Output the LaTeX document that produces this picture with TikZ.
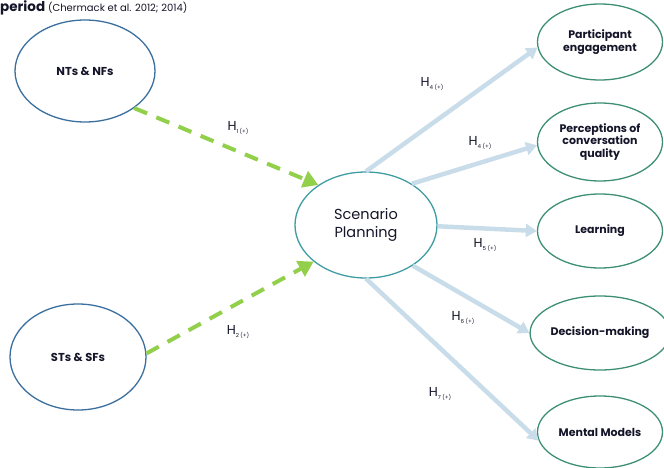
\documentclass[tikz,border=0pt]{standalone}
\usepackage{fontspec}
\setmainfont{Poppins}
\usetikzlibrary{arrows.meta,shapes.geometric}
\definecolor{leftblue}{HTML}{3A6F9E}
\definecolor{spteal}{HTML}{3E9DA2}
\definecolor{rgreen}{HTML}{3D8F73}
\definecolor{arrblue}{HTML}{C8DDE9}
\definecolor{dgreen}{HTML}{92CF4A}
\definecolor{txt}{HTML}{15152A}
\newcommand{\hyp}[1]{H\raisebox{-0.4ex}{\fontsize{5.5}{6}\selectfont #1 (+)}}
\tikzset{
  ell/.style={ellipse, draw, line width=1.3pt, inner sep=0pt, align=center, text=txt},
  lnode/.style={ell, draw=leftblue, font=\fontsize{11.5}{13}\selectfont\bfseries},
  spnode/.style={ell, draw=spteal, font=\fontsize{14.5}{17.5}\selectfont},
  rnode/.style={ell, draw=rgreen, font=\fontsize{11}{12.5}\selectfont\bfseries},
  garrow/.style={draw=dgreen, line width=4pt, dash pattern=on 14pt off 10pt, -{Triangle[length=15pt,width=17pt,fill=dgreen]}},
  barrow/.style={draw=arrblue, line width=4.5pt, -{Triangle[length=11pt,width=13pt,fill=arrblue]}},
  hlab/.style={font=\fontsize{13}{15}\selectfont, text=txt}
}
\begin{document}
\begin{tikzpicture}[x=1pt,y=-1pt]
\useasboundingbox (0,0) rectangle (664,468);
\node[anchor=base west, inner sep=0pt, text=txt] (title) at (0,12) {\fontsize{13.5}{14}\selectfont\bfseries period \fontsize{10}{11}\selectfont\mdseries (Chermack et al. 2012; 2014)};
\node[lnode, minimum width=140pt, minimum height=102pt] (nts) at (85,71) {NTs \& NFs};
\node[lnode, minimum width=136pt, minimum height=106pt] (sts) at (78,357) {STs \& SFs};
\node[spnode, minimum width=142pt, minimum height=106pt] (sp) at (366,225) {Scenario\\Planning};
\node[rnode, minimum width=125pt, minimum height=76pt] (pe) at (600,42) {Participant\\engagement};
\node[rnode, minimum width=125pt, minimum height=78pt] (pq) at (600,142) {Perceptions of\\conversation\\quality};
\node[rnode, minimum width=125pt, minimum height=74pt] (lr) at (600,231) {Learning};
\node[rnode, minimum width=125pt, minimum height=74pt] (dm) at (600,333) {Decision-making};
\node[rnode, minimum width=125pt, minimum height=72pt] (mm) at (600,432) {Mental Models};

\draw[garrow] (nts.-37) -- (sp.140);
\draw[garrow] (sts.3) -- (sp.-145);

\draw[barrow] (sp.90) -- (pe.185);
\draw[barrow] (sp.42) -- (pq.183);
\draw[barrow] (sp.-1) -- (lr.west);
\draw[barrow] (sp.-41) -- (dm.west);
\draw[barrow] (sp.-90) -- (mm.188);

\node[hlab] (h1) at (238,128) {\hyp{1}};
\node[hlab] (h2) at (238,332) {\hyp{2}};
\node[hlab] (h3) at (432,84) {\hyp{4}};
\node[hlab] (h4) at (480,143) {\hyp{4}};
\node[hlab] (h5) at (485,245) {\hyp{5}};
\node[hlab] (h6) at (463,318) {\hyp{6}};
\node[hlab] (h7) at (440,394) {\hyp{7}};
\end{tikzpicture}
\end{document}
